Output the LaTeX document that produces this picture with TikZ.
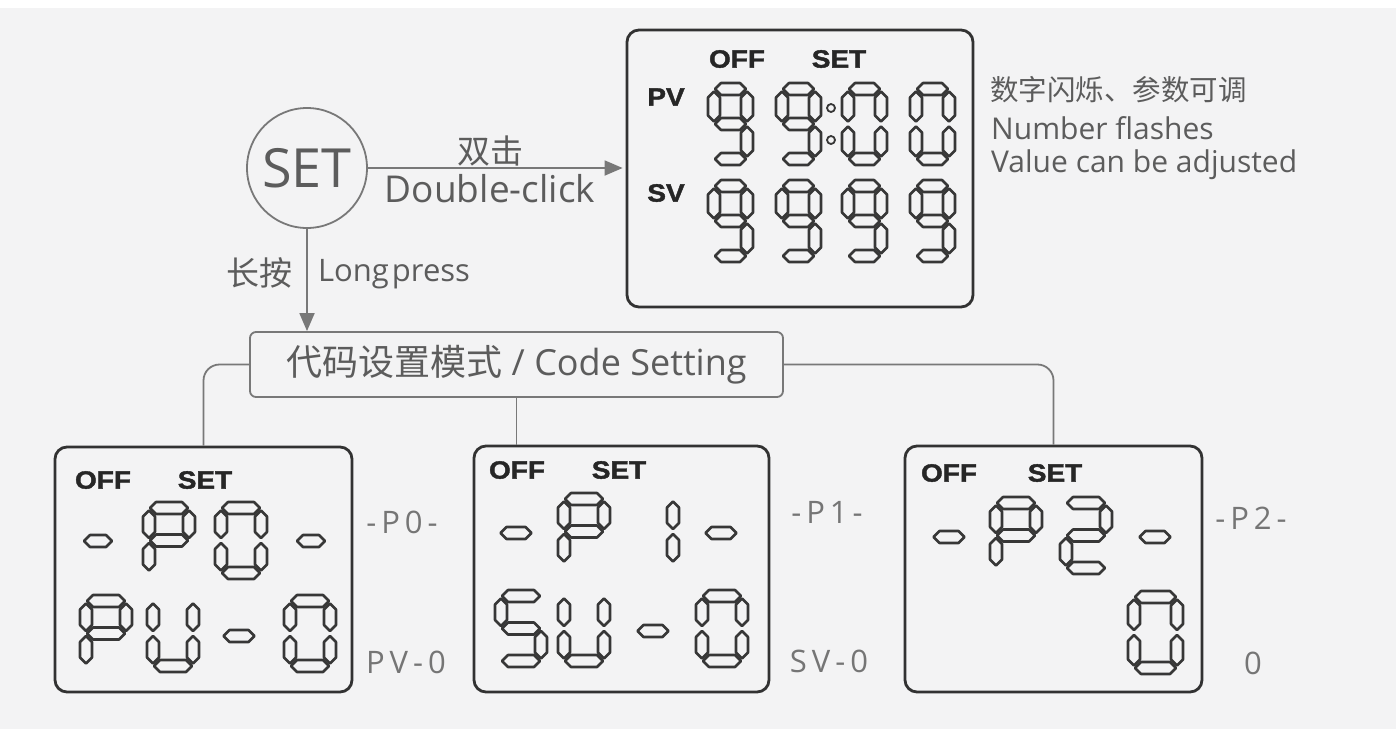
\documentclass[tikz,border=0pt]{standalone}
\usepackage{fontspec}
\usepackage{tikz}
\usetikzlibrary{arrows.meta}
\setmainfont{Open Sans}
\newfontfamily\cjk{Noto Sans CJK SC}
\newfontfamily\lcdfont{Liberation Sans}[FakeStretch=1.12, FakeBold=1.6]
\newfontfamily\tagfont{Open Sans}[LetterSpace=16]
\definecolor{bgpaper}{RGB}{243,243,244}
\definecolor{textgray}{RGB}{92,92,92}
\definecolor{linegray}{RGB}{120,120,120}
\definecolor{boxdark}{RGB}{50,50,50}
\definecolor{segdark}{RGB}{55,55,55}
\definecolor{lcdink}{RGB}{38,38,38}
\newcommand{\segt}{12}
\newcommand{\hin}{7}
\newcommand{\vin}{2.5}
\newcommand{\digw}{45}
\newcommand{\digh}{82}
\newcommand{\hseg}[3]{\draw[segment] ({#1-(#3)/2},{#2}) -- ++({\segt/2},{-\segt/2}) -- ++({#3-\segt},0) -- ++({\segt/2},{\segt/2}) -- ++({-\segt/2},{\segt/2}) -- ++({\segt-(#3)},0) -- cycle;}
\newcommand{\vseg}[3]{\draw[segment] ({#1},{#2-(#3)/2}) -- ++({\segt/2},{\segt/2}) -- ++(0,{#3-\segt}) -- ++({-\segt/2},{\segt/2}) -- ++({-\segt/2},{-\segt/2}) -- ++(0,{\segt-(#3)}) -- cycle;}
\newcommand{\segA}[2]{\hseg{#1+\digw/2}{#2+\segt/2}{\digw-2*\hin}}
\newcommand{\segG}[2]{\hseg{#1+\digw/2}{#2+\digh/2}{\digw-2*\hin}}
\newcommand{\segD}[2]{\hseg{#1+\digw/2}{#2+\digh-\segt/2}{\digw-2*\hin}}
\newcommand{\segF}[2]{\vseg{#1+\segt/2}{#2+\digh/4+\segt/4}{\digh/2-\segt/2-2*\vin}}
\newcommand{\segB}[2]{\vseg{#1+\digw-\segt/2}{#2+\digh/4+\segt/4}{\digh/2-\segt/2-2*\vin}}
\newcommand{\segE}[2]{\vseg{#1+\segt/2}{#2+3*\digh/4-\segt/4}{\digh/2-\segt/2-2*\vin}}
\newcommand{\segC}[2]{\vseg{#1+\digw-\segt/2}{#2+3*\digh/4-\segt/4}{\digh/2-\segt/2-2*\vin}}
\newcommand{\lcddigit}[3]{\foreach \s in {#3}{\csname seg\s\endcsname{#1}{#2}}}

\begin{document}
\begin{tikzpicture}[x=1pt,y=-1pt,
  segment/.style={draw=segdark, line width=2.6pt, line join=round},
  lcdbox/.style={draw=boxdark, line width=2.8pt, rounded corners=12pt, inner sep=0pt},
  flow/.style={draw=linegray, line width=1.8pt},
  arr/.style={flow, -{Triangle[length=18pt,width=15pt]}},
  lcdtext/.style={font=\lcdfont\bfseries\fontsize{25}{25}\selectfont, text=lcdink, inner sep=0pt},
  note/.style={text=textgray, inner sep=0pt},
  tag/.style={font=\tagfont\fontsize{31}{31}\selectfont, text=textgray!85, inner sep=0pt}]

\fill[bgpaper] (0,0) rectangle (1396,729);
\fill[white] (0,0) rectangle (1396,8);
\useasboundingbox (0,0) rectangle (1396,729);

% key and modes
\node[circle, draw=linegray, line width=1.8pt, minimum size=120pt, inner sep=0pt,
      font=\fontsize{54}{54}\selectfont, text=textgray] (set) at (307,168) {SET};
\node[lcdbox, minimum width=346pt, minimum height=277pt] (pvlcd) at (800,168.5) {};
\node[draw=linegray, line width=1.8pt, rounded corners=6pt, minimum width=533pt, minimum height=65pt,
      inner sep=0pt, font=\fontsize{36}{36}\selectfont, text=textgray] (code) at (516.5,364.5)
      {{\cjk 代码设置模式} / Code Setting};
\node[lcdbox, minimum width=297pt, minimum height=245pt] (lcd0) at (203.5,569.5) {};
\node[lcdbox, minimum width=295pt, minimum height=246pt] (lcd1) at (621.5,569) {};
\node[lcdbox, minimum width=297pt, minimum height=246pt] (lcd2) at (1053.5,569) {};

\draw[arr, shorten >=3pt] (set.east) -- (set.east -| pvlcd.west);
\draw[arr] (set.south) -- (set.south |- code.north);
\draw[flow, rounded corners=16pt] (code.west) -| (lcd0.north);
\draw[flow] (code.south) -- (code.south |- lcd1.north);
\draw[flow, rounded corners=16pt] (code.east) -| (lcd2.north);

\node[note, font=\cjk\fontsize{33}{33}\selectfont] (dblcn) at (490,151) {双击};
\node[note, font=\fontsize{37}{37}\selectfont] (dblen) at (490,189) {Double-click};
\node[note, font=\cjk\fontsize{33}{33}\selectfont] (longcn) at (259,273) {长按};
\node[note, font=\fontsize{31}{31}\selectfont] (longen) at (394,274) {Long\hspace{0.1em}press};

\node[note, anchor=west, font=\cjk\fontsize{28.5}{28.5}\selectfont] (flashcn) at (990,90) {数字闪烁、参数可调};
\node[note, anchor=west, font=\fontsize{30}{30}\selectfont] (flashen) at (991,128) {Number flashes};
\node[note, anchor=west, font=\fontsize{30}{30}\selectfont] (adjen) at (991,165) {Value can be adjusted};

% top display
\node[lcdtext] (offT) at (737,59) {OFF};
\node[lcdtext] (setT) at (839,59) {SET};
\node[lcdtext] (pvT) at (666,97) {PV};
\node[lcdtext] (svT) at (666,193) {SV};
\lcddigit{708}{83}{A,B,C,D,F,G}
\lcddigit{776}{83}{A,B,C,D,F,G}
\lcddigit{842}{83}{A,B,C,D,E,F}
\lcddigit{910}{83}{A,B,C,D,E,F}
\foreach \x in {708,776,842,910} {\lcddigit{\x}{180}{A,B,C,D,F,G}}
\draw[segment, line width=1.8pt] (831,108) circle (4pt);
\draw[segment, line width=1.8pt] (831,140) circle (4pt);

% code displays
\begin{scope}
\def\digw{52}\def\digh{77}
\node[lcdtext] (off0) at (103,480) {OFF};
\node[lcdtext] (set0) at (205,480) {SET};
\hseg{98}{541}{28}
\lcddigit{143}{502}{A,B,E,F,G}
\lcddigit{215}{502}{A,B,C,D,E,F}
\hseg{311}{541}{28}
\lcddigit{80}{595}{A,B,E,F,G}
\lcddigit{147}{595}{B,C,D,E,F}
\hseg{239}{636}{31}
\lcddigit{284}{595}{A,B,C,D,E,F}

\node[lcdtext] (off1) at (517,470) {OFF};
\node[lcdtext] (set1) at (619,470) {SET};
\hseg{516}{533}{31}
\lcddigit{558}{493}{A,B,E,F,G}
\lcddigit{627}{493}{B,C}
\hseg{721}{533}{31}
\lcddigit{495}{590}{A,C,D,F,G}
\lcddigit{558}{590}{B,C,D,E,F}
\hseg{653}{631}{31}
\lcddigit{696}{590}{A,B,C,D,E,F}

\node[lcdtext] (off2) at (949,473) {OFF};
\node[lcdtext] (set2) at (1055,473) {SET};
\hseg{949}{537}{31}
\lcddigit{990}{497}{A,B,E,F,G}
\lcddigit{1060}{497}{A,B,D,E,G}
\hseg{1155}{537}{31}
\def\digw{55}\def\digh{83}
\lcddigit{1128}{591}{A,B,C,D,E,F}
\end{scope}

\node[tag] (tag0) at (402,522) {-P0-};
\node[tag] (val0) at (406,662) {PV-0};
\node[tag] (tag1) at (827,512) {-P1-};
\node[tag] (val1) at (829,661) {SV-0};
\node[tag] (tag2) at (1251,518) {-P2-};
\node[tag] (val2) at (1253,663) {0};

\end{tikzpicture}
\end{document}
